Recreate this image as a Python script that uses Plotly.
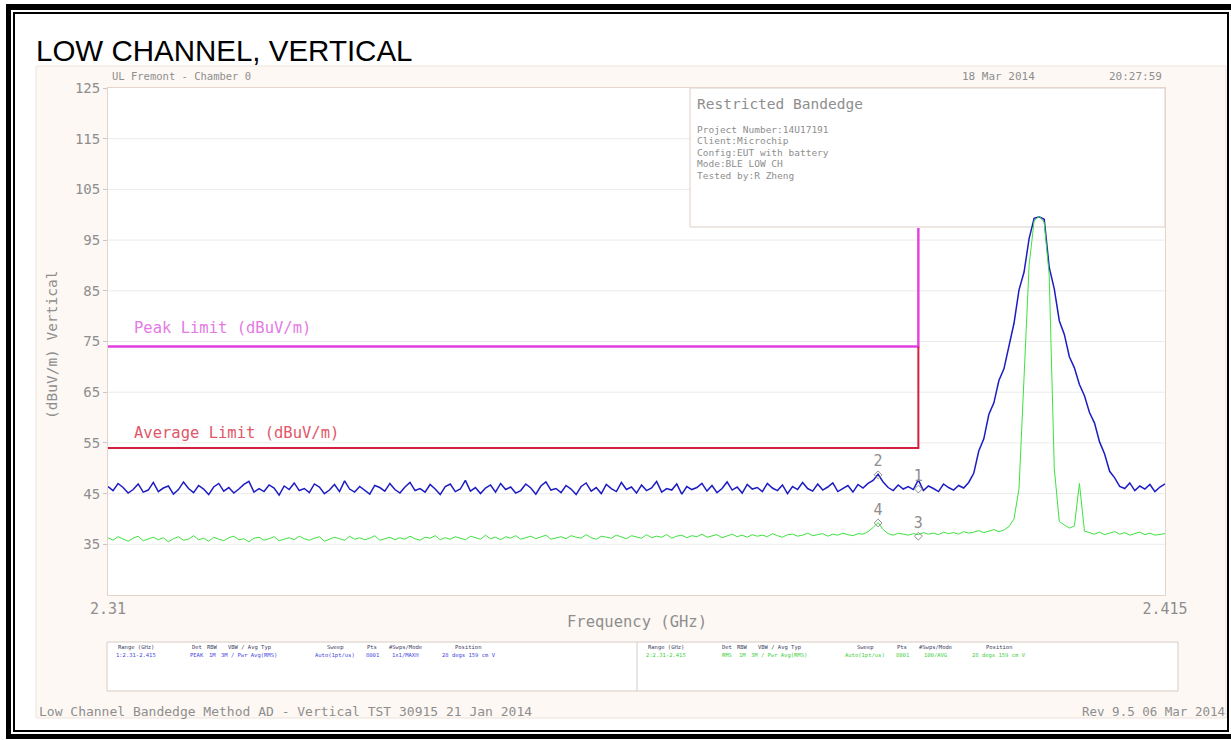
import plotly.graph_objects as go


# ==========================================
# DATA
# ==========================================

freq_start = 2.31     # GHz, first sweep point
freq_step = 0.0005    # GHz between sweep points
freq_stop = 2.415

# trace 1 : peak detector (blue), dBuV/m
peak_trace = [
    46.4, 45.6, 47.0, 46.2, 45.1, 45.8, 46.9, 45.3, 45.7, 47.2,
    45.4, 46.1, 46.5, 44.9, 45.8, 47.3, 46.0, 45.2, 46.6, 45.9,
    44.8, 46.3, 47.0, 45.5, 46.2, 45.1, 45.9, 46.8, 47.4, 45.3,
    46.0, 45.4, 46.7, 46.1, 44.7, 46.5, 45.8, 47.1, 45.6, 46.0,
    45.2, 46.9, 46.3, 45.0, 45.7, 46.8, 45.4, 47.5, 45.9, 45.3,
    46.4, 45.7, 44.9, 46.6, 46.2, 45.5, 47.0, 45.8, 45.1, 46.3,
    47.2, 45.6, 46.0, 45.3, 46.8, 45.9, 44.8, 46.4, 46.9, 45.4,
    45.9, 47.6, 45.5, 46.2, 45.0, 46.1, 46.7, 45.3, 47.0, 45.8,
    46.3, 45.1, 45.6, 46.9, 46.1, 44.9, 46.5, 47.3, 45.7, 46.0,
    45.2, 46.6, 45.9, 44.8, 46.4, 47.1, 45.5, 46.2, 45.0, 46.8,
    46.0, 45.4, 47.2, 45.8, 46.3, 45.1, 46.7, 45.6, 46.1, 47.4,
    45.3, 46.0, 45.7, 46.9, 44.9, 46.4, 45.8, 46.2, 47.0, 45.5,
    46.6, 45.2, 46.0, 47.3, 45.7, 46.3, 45.1, 46.8, 45.9, 46.2,
    45.4, 47.0, 46.1, 45.6, 46.7, 45.0, 46.4, 45.8, 47.2, 46.0,
    45.5, 46.9, 45.7, 46.3, 47.1, 45.4, 46.0, 46.6, 45.3, 46.8,
    46.1, 47.0, 47.6, 48.8, 47.3, 46.2, 45.6, 46.7, 45.9, 46.4,
    45.8, 47.7, 45.6, 46.5, 46.0, 45.4, 46.9, 46.2, 45.7, 46.6,
    46.1, 47.2,
    49.0, 53.4, 55.8, 60.6, 62.9, 67.3, 69.6, 74.4, 78.6, 85.2,
    88.7, 95.3, 99.3, 99.6, 99.1, 89.6, 85.4, 79.1, 76.4, 72.0,
    69.8, 66.5, 64.3, 61.0, 58.9, 55.2, 52.8, 49.4, 48.1, 46.4,
    46.0, 47.1, 45.6, 46.5, 45.9, 46.8, 45.4, 46.3, 46.9,
]

# trace 2 : rms average (green), dBuV/m
avg_trace = [
    36.3, 35.8, 36.5, 36.1, 35.6, 36.2, 36.6, 35.7, 36.0, 36.4,
    35.9, 36.3, 35.5, 36.1, 36.5, 35.8, 36.0, 36.7, 35.9, 36.2,
    35.6, 36.4, 36.0, 35.7, 36.3, 36.6, 35.9, 36.1, 35.5, 36.2,
    36.4, 35.8, 36.1, 36.5, 35.7, 36.0, 36.3, 35.9, 36.6, 36.1,
    35.8, 36.2, 36.5, 35.6, 36.0, 36.4, 36.1, 35.8, 36.6, 36.0,
    36.3, 35.9, 36.2, 36.7, 35.8, 36.1, 36.4, 35.9, 36.3, 36.0,
    36.6, 36.1, 35.8, 36.4, 36.2, 36.7, 35.9, 36.3, 36.0, 36.5,
    36.2, 35.9, 36.6, 36.3, 36.0, 36.8, 36.1, 36.4, 35.9, 36.5,
    36.2, 36.7, 36.0, 36.3, 36.6, 36.1, 36.4, 36.8, 36.0, 36.3,
    36.5, 36.1, 36.7, 36.4, 36.2, 36.9, 36.3, 36.0, 36.6, 36.4,
    36.2, 36.8, 36.4, 36.1, 36.7, 36.5, 36.2, 36.9, 36.3, 36.6,
    36.4, 36.9, 36.2, 36.6, 36.8, 36.3, 36.7, 36.5, 37.0, 36.4,
    36.6, 36.9, 36.3, 36.7, 37.0, 36.5, 36.8, 36.4, 36.9, 36.6,
    36.8, 36.5, 37.1, 36.7, 36.4, 36.9, 37.0, 36.6, 36.8, 37.2,
    36.7, 36.9, 37.1, 36.6, 37.0, 36.8, 37.2, 36.9, 36.7, 37.1,
    37.0, 37.5, 38.3, 39.3, 37.9, 37.1, 36.8, 37.2, 37.0, 36.8,
    37.1, 36.9, 37.3, 37.0, 37.2, 36.9, 37.4, 37.1, 37.3, 37.0,
    37.5, 37.2, 37.4, 37.7, 37.3, 37.6, 37.9, 37.5, 37.8, 38.5,
    40.0, 46.0, 67.0, 90.0, 98.8, 99.7, 98.5, 88.0, 50.0, 39.5,
    38.8, 38.2, 38.6, 47.0, 37.6, 37.3, 37.0, 37.4, 36.9, 37.2,
    37.5, 37.0, 37.3, 36.8, 37.1, 37.4, 36.9, 37.2, 36.8, 37.0, 37.1,
]

# limit lines (restricted band edge)
limit_freq = [2.31, 2.3905, 2.3905]
peak_limit = [74, 74, 97.4]
avg_limit = [54, 54, 74]

# markers
marker_freq = [2.3865, 2.3905]
marker_peak = [48.7, 45.9]
marker_avg = [39.2, 36.6]
marker_peak_ids = ["2", "1"]
marker_avg_ids = ["4", "3"]

y_ticks = [35, 45, 55, 65, 75, 85, 95, 105, 115, 125]
x_ticks = [2.31, 2.415]
x_tick_text = ["2.31", "2.415"]

info_title = "Restricted Bandedge"
info_lines = [
    "Project Number:14U17191",
    "Client:Microchip",
    "Config:EUT with battery",
    "Mode:BLE LOW CH",
    "Tested by:R Zheng",
]

table_headers = ["Range (GHz)", "Det", "RBW", "VBW / Avg Typ",
                 "Sweep", "Pts", "#Swps/Mode", "Position"]
peak_settings = ["1:2.31-2.415", "PEAK", "1M", "3M / Pwr Avg(RMS)",
                 "Auto(1pt/us)", "8001", "1x1/MAXH", "28 degs 159 cm V"]
avg_settings = ["2:2.31-2.415", "RMS", "1M", "3M / Pwr Avg(RMS)",
                "Auto(1pt/us)", "8001", "100/AVG", "28 degs 159 cm V"]


# ==========================================
# PAGE GEOMETRY (pixels)
# ==========================================

W, H = 1231, 740
MONO = "DejaVu Sans Mono"
GREY = "#8e8e8e"

PLOT_L, PLOT_R, PLOT_T, PLOT_B = 108, 1165, 88, 595
BOX_L, BOX_B = 690, 227
BOX_LEVEL = 97.4   # dB level of the info box bottom edge


def px(x):
    return x / W


def py(y):
    return 1 - y / H


def label(text, x, y, size, color=GREY, anchor="left",
          font=MONO, angle=0):
    return dict(
        text=text, x=px(x), y=py(y),
        xref="paper", yref="paper",
        xanchor=anchor, yanchor="middle",
        showarrow=False, textangle=angle,
        font=dict(family=font, size=size, color=color)
    )


# ==========================================
# TRACES
# ==========================================

fig = go.Figure()

fig.add_trace(go.Scatter(
    x0=freq_start, dx=freq_step, y=peak_trace,
    mode="lines", line=dict(color="#1c1cc4", width=1.5)
))

fig.add_trace(go.Scatter(
    x0=freq_start, dx=freq_step, y=avg_trace,
    mode="lines", line=dict(color="#3ee23e", width=1)
))

fig.add_trace(go.Scatter(
    x=limit_freq, y=peak_limit,
    mode="lines", line=dict(color="#e040e0", width=2.4)
))

fig.add_trace(go.Scatter(
    x=limit_freq, y=avg_limit,
    mode="lines", line=dict(color="#d42040", width=2)
))

for levels, ids in [(marker_peak, marker_peak_ids),
                    (marker_avg, marker_avg_ids)]:
    fig.add_trace(go.Scatter(
        x=marker_freq, y=levels, text=ids,
        mode="markers+text", textposition="top center",
        textfont=dict(family=MONO, size=15, color=GREY),
        marker=dict(symbol="diamond-open", size=6,
                    color=GREY, line=dict(width=1))
    ))


# ==========================================
# TEXT
# ==========================================

annotations = [
    label("LOW CHANNEL, VERTICAL", 34, 51, 29.5, "#000000",
          font="Liberation Sans"),
    label("UL Fremont - Chamber 0", 110, 76, 10.5),
    label("18 Mar 2014", 960, 76, 11),
    label("20:27:59", 1164, 76, 11, anchor="right"),
    label(info_title, 695, 104, 14.5),
    label("Peak Limit (dBuV/m)", 132, 328, 15.5, "#e47ae4"),
    label("Average Limit (dBuV/m)", 132, 433, 15.5, "#e0586a"),
    label("(dBuV/m) Vertical", 52, 345, 14.5, anchor="center", angle=-90),
    label("Frequency (GHz)", 637, 622, 15.5, anchor="center"),
    label("Low Channel Bandedge Method AD - Vertical TST 30915 21 Jan 2014",
          37, 711, 13),
    label("Rev 9.5 06 Mar 2014", 1227, 711, 12.5, anchor="right"),
]

for i, line in enumerate(info_lines):
    annotations.append(label(line, 695, 129 + 11.6 * i, 9.5))

col_offsets = [29, 90, 105, 142, 228, 265, 298, 362]
for box_left, values, color in [(107, peak_settings, "#4646e0"),
                                (637, avg_settings, "#40d040")]:
    for off, head, val in zip(col_offsets, table_headers, values):
        annotations.append(label(head, box_left + off, 647, 5.5,
                                 "#3c4060", anchor="center"))
        annotations.append(label(val, box_left + off, 655, 5.5,
                                 color, anchor="center"))


# ==========================================
# SHAPES
# ==========================================

shapes = [
    # analyser screen background
    dict(type="rect", xref="paper", yref="paper", layer="below",
         x0=px(36), x1=px(1226), y0=py(718), y1=py(66),
         fillcolor="#fdf8f4", line=dict(color="#f0e2da", width=1)),
    dict(type="rect", xref="paper", yref="paper", layer="below",
         x0=px(PLOT_L), x1=px(PLOT_R), y0=py(PLOT_B), y1=py(PLOT_T),
         fillcolor="#ffffff", line=dict(width=0)),
]

# horizontal graticule, stopped at the info box
for level in y_ticks[:-1]:
    right = BOX_L if level > BOX_LEVEL else PLOT_R
    shapes.append(dict(
        type="line", xref="paper", yref="y", layer="below",
        x0=px(PLOT_L), x1=px(right), y0=level, y1=level,
        line=dict(color="#ebebeb", width=1)
    ))

shapes += [
    # info box
    dict(type="rect", xref="paper", yref="paper", layer="below",
         x0=px(BOX_L), x1=px(PLOT_R), y0=py(BOX_B), y1=py(PLOT_T),
         fillcolor="#ffffff", line=dict(color="#dccfc8", width=1)),
    # settings table
    dict(type="rect", xref="paper", yref="paper", layer="below",
         x0=px(107), x1=px(1178), y0=py(691), y1=py(642),
         fillcolor="#ffffff", line=dict(color="#d8ccc6", width=1)),
    dict(type="line", xref="paper", yref="paper", layer="below",
         x0=px(637), x1=px(637), y0=py(691), y1=py(642),
         line=dict(color="#d8ccc6", width=1)),
    # double page frame
    dict(type="line", xref="paper", yref="paper",
         x0=px(8.5), x1=px(8.5), y0=py(739), y1=py(4),
         line=dict(color="#000000", width=5)),
    dict(type="line", xref="paper", yref="paper",
         x0=px(6), x1=px(1231), y0=py(7), y1=py(7),
         line=dict(color="#000000", width=6)),
    dict(type="line", xref="paper", yref="paper",
         x0=px(6), x1=px(1231), y0=py(736.5), y1=py(736.5),
         line=dict(color="#000000", width=5)),
    dict(type="rect", xref="paper", yref="paper",
         x0=px(14), x1=px(1228), y0=py(731), y1=py(13),
         line=dict(color="#000000", width=2)),
]


# ==========================================
# LAYOUT
# ==========================================

fig.update_layout(
    width=W,
    height=H,
    margin=dict(l=0, r=0, t=0, b=0),
    template="none",
    showlegend=False,
    hovermode=False,
    paper_bgcolor="#ffffff",
    plot_bgcolor="#ffffff",
    annotations=annotations,
    shapes=shapes,
    xaxis=dict(
        domain=[px(PLOT_L), px(PLOT_R)],
        range=[freq_start, freq_stop],
        tickvals=x_ticks, ticktext=x_tick_text,
        tickfont=dict(family=MONO, size=15, color=GREY),
        showgrid=False, zeroline=False,
        showline=True, mirror=True,
        linecolor="#e4d4cc", linewidth=1,
        ticks="", automargin=False
    ),
    yaxis=dict(
        domain=[py(PLOT_B), py(PLOT_T)],
        range=[25, 125],
        tickvals=y_ticks,
        tickfont=dict(family=MONO, size=14, color=GREY),
        showgrid=False, zeroline=False,
        showline=True, mirror=True,
        linecolor="#e4d4cc", linewidth=1,
        ticks="outside", ticklen=4, tickcolor="#c8c8c8",
        automargin=False
    ),
)

fig.write_html(
    "out.html",
    config={"displayModeBar": False},
    post_script="document.body.style.margin = '0';"
)
